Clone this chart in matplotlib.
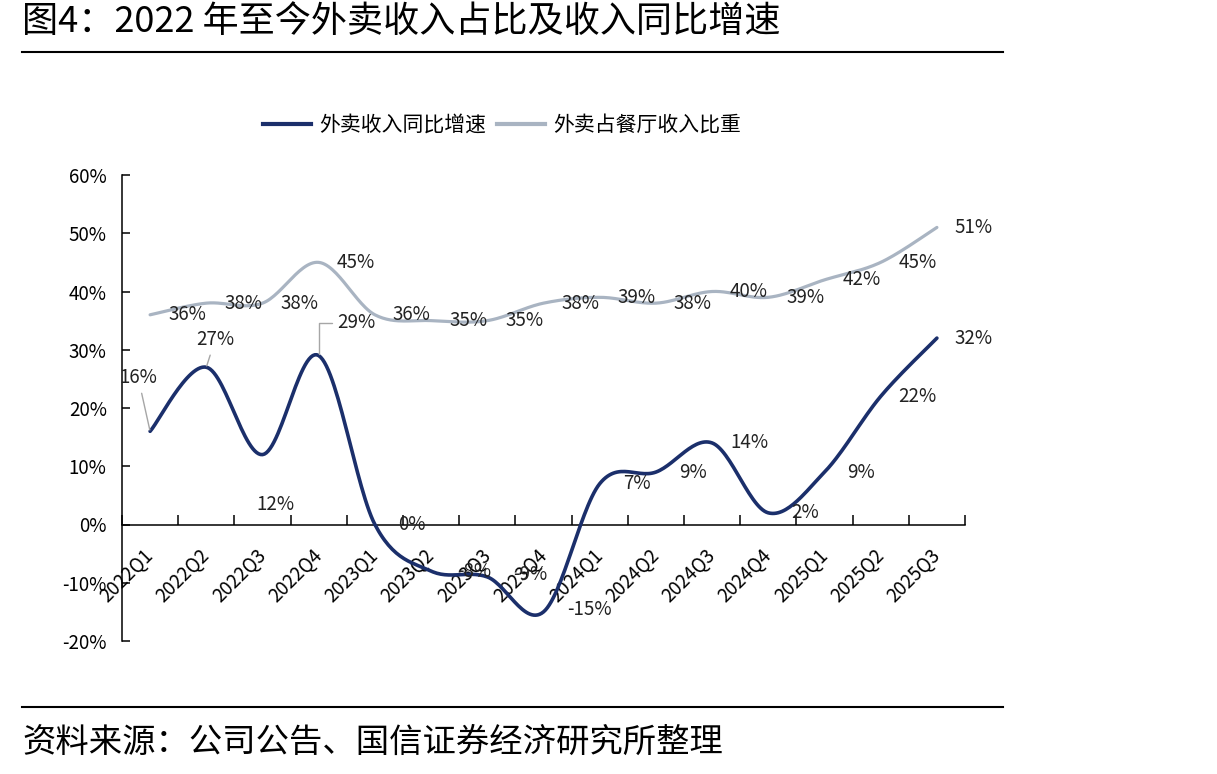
import numpy as np
import matplotlib
matplotlib.use('Agg')
import matplotlib.pyplot as plt
from matplotlib.lines import Line2D

plt.rcParams['font.family'] = ['Noto Sans CJK SC', 'DejaVu Sans']

# ---------------- data ----------------
quarters = ['2022Q1', '2022Q2', '2022Q3', '2022Q4',
            '2023Q1', '2023Q2', '2023Q3', '2023Q4',
            '2024Q1', '2024Q2', '2024Q3', '2024Q4',
            '2025Q1', '2025Q2', '2025Q3']
growth = [16, 27, 12, 29, 0, -8, -9, -15, 7, 9, 14, 2, 9, 22, 32]
share = [36, 38, 38, 45, 36, 35, 35, 38, 39, 38, 40, 39, 42, 45, 51]
series_names = ['外卖收入同比增速', '外卖占餐厅收入比重']
yticks = [-20, -10, 0, 10, 20, 30, 40, 50, 60]
title = '图4：2022 年至今外卖收入占比及收入同比增速'
source = '资料来源：公司公告、国信证券经济研究所整理'

# ---------------- style ----------------
W, H = 1217, 774
dark = '#1B2F6B'
gray = '#A9B4C2'
leader = '#A6A6A6'
fs = 13.5


def smooth(x, y, n=30):
    """Excel-like smoothed line (Catmull-Rom as cubic Bezier)."""
    P = np.column_stack([np.asarray(x, float), np.asarray(y, float)])
    Pe = np.vstack([P[0], P, P[-1]])
    t = np.linspace(0, 1, n)[:, None]
    out = []
    for i in range(len(P) - 1):
        p0, p1, p2, p3 = Pe[i], Pe[i + 1], Pe[i + 2], Pe[i + 3]
        c1 = p1 + (p2 - p0) / 6
        c2 = p2 - (p3 - p1) / 6
        seg = ((1 - t) ** 3) * p1 + 3 * (1 - t) ** 2 * t * c1 + 3 * (1 - t) * t ** 2 * c2 + t ** 3 * p2
        out.append(seg if i == 0 else seg[1:])
    S = np.vstack(out)
    return S[:, 0], S[:, 1]


fig = plt.figure(figsize=(W / 100, H / 100), dpi=100)
ax = fig.add_axes([122 / W, 1 - 641 / H, (965 - 122) / W, (641 - 175) / H])

x = np.arange(len(quarters))
sx, sy = smooth(x, share)
gx, gy = smooth(x, growth)
ax.plot(sx, sy, color=gray, lw=2.3, solid_capstyle='round', zorder=3)
ax.plot(gx, gy, color=dark, lw=2.6, solid_capstyle='round', zorder=4)

ax.set_xlim(-0.5, len(quarters) - 0.5)
ax.set_ylim(-20, 60)

# spines
for s in ['top', 'right']:
    ax.spines[s].set_visible(False)
ax.spines['bottom'].set_position(('data', 0))
ax.spines['left'].set_linewidth(1.1)
ax.spines['bottom'].set_linewidth(1.1)

ax.set_yticks(yticks)
ax.set_yticklabels([f'{v}%' for v in yticks], fontsize=fs)
ax.tick_params(axis='y', direction='in', length=6, width=1.1, pad=11)

ax.set_xticks(x)
ax.set_xticklabels(quarters, fontsize=fs, rotation=45, ha='right', va='center',
                   rotation_mode='anchor')
ax.set_xticks(np.arange(-0.5, len(quarters), 1), minor=True)
ax.tick_params(axis='x', which='major', length=0, pad=20)
ax.tick_params(axis='x', which='minor', direction='in', length=7, width=1.1)

# data labels (pixel offsets)
default_off = (37, 0)
for i, v in enumerate(share):
    ax.annotate(f'{v}%', (i, v), xytext=default_off, textcoords='offset pixels',
                ha='center', va='center', fontsize=fs, color='#222222', zorder=5)

growth_off = {0: (-12, 54), 1: (9, 28), 2: (13, -50), 3: (38, 33),
              5: (43, 0), 6: (43, 2), 7: (46, 2)}
growth_conn = {0: 'arc3', 1: 'arc3', 3: 'angle,angleA=0,angleB=90,rad=0'}
for i, v in enumerate(growth):
    off = growth_off.get(i, default_off)
    kw = {}
    if i in growth_conn:
        kw['arrowprops'] = dict(arrowstyle='-', color=leader, lw=1,
                                connectionstyle=growth_conn[i],
                                shrinkA=2, shrinkB=1)
    ax.annotate(f'{v}%', (i, v), xytext=off, textcoords='offset pixels',
                ha='center', va='center', fontsize=fs, color='#222222', zorder=5, **kw)

# legend
handles = [Line2D([], [], color=dark, lw=3), Line2D([], [], color=gray, lw=3)]
fig.legend(handles, series_names, loc='center', bbox_to_anchor=(502 / W, 1 - 125 / H),
           ncol=2, frameon=False, fontsize=15, handlelength=2.3, handletextpad=0.4,
           columnspacing=0.5)

# title, rules, source
fig.text(22 / W, 1 - 22 / H, title, fontsize=26, ha='left', va='center')
fig.add_artist(Line2D([22 / W, 1003 / W], [1 - 52 / H] * 2, color='black', lw=1.5))
fig.add_artist(Line2D([22 / W, 1003 / W], [1 - 707 / H] * 2, color='black', lw=1.5))
fig.text(22 / W, 1 - 742 / H, source, fontsize=24, ha='left', va='center')

fig.savefig('out.png', dpi=100)
